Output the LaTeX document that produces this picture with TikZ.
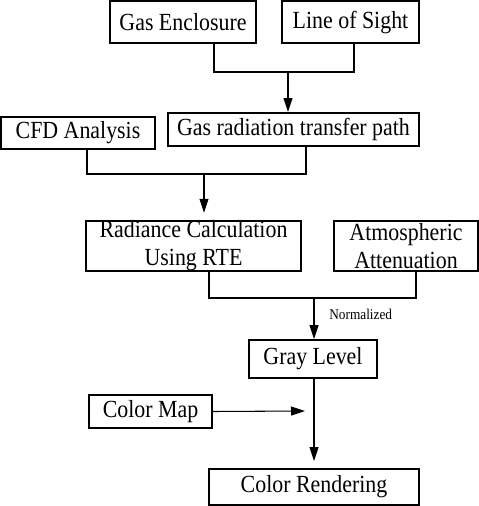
\documentclass[tikz,border=0pt]{standalone}
\usepackage{fontspec}
\setmainfont{Liberation Serif}[FakeStretch=0.89]
\usetikzlibrary{arrows.meta, positioning, calc}
\tikzset{
    box/.style={draw, line width=1.1pt, inner sep=0pt, align=center, font=\fontsize{14}{16}\selectfont},
    link/.style={line width=0.6pt},
    flow/.style={link, -{Triangle[length=0.28cm, width=0.18cm]}}
}

\begin{document}
\begin{tikzpicture}[x=0.02cm, y=-0.02cm]
    \useasboundingbox (0,0) rectangle (479,506);

    % Blocchi
    \node[box, minimum width=2.92cm, minimum height=0.84cm] (encl) at (183,22) {Gas Enclosure};
    \node[box, minimum width=2.74cm, minimum height=0.84cm] (sight) at (350.5,22) {Line of Sight};
    \node[box, minimum width=5.02cm, minimum height=0.66cm] (path) at (293.5,129.5) {Gas radiation transfer path};
    \node[box, minimum width=3.08cm, minimum height=0.64cm] (cfd) at (78,133) {CFD Analysis};
    \node[box, minimum width=4.30cm, minimum height=1.00cm] (rte) at (193.5,246) {Radiance Calculation\\Using RTE};
    \node[box, minimum width=2.88cm, minimum height=1.00cm] (atm) at (406,246) {Atmospheric\\Attenuation};
    \node[box, minimum width=2.56cm, minimum height=0.76cm] (gray) at (313,359) {Gray Level};
    \node[box, minimum width=2.46cm, minimum height=0.66cm] (cmap) at (150.5,411.5) {Color Map};
    \node[box, minimum width=4.20cm, minimum height=0.72cm] (render) at (314,487) {Color Rendering};

    % Punti di giunzione
    \coordinate (e1) at (214,43);
    \coordinate (s1) at (354,43);
    \coordinate (j1) at (288,72);
    \coordinate (c1) at (87,149);
    \coordinate (p1) at (306,146);
    \coordinate (j2) at (204,174);
    \coordinate (r1) at (209,271);
    \coordinate (a1) at (416,271);
    \coordinate (j3) at (314,298);
    \coordinate (m1) at (305,411);

    % Connessioni
    \draw[link] (e1) |- (j1) -| (s1);
    \draw[flow] (j1) -- (path.north -| j1);
    \draw[link] (c1) |- (j2) -| (p1);
    \draw[flow, shorten >=0.14cm] (j2) -- (rte.north -| j2);
    \draw[link] (r1) |- (j3) -| (a1);
    \draw[flow] (j3) -- node[right=0.18cm, pos=0.4, font=\fontsize{8.5}{10}\selectfont] (norm) {Normalized} (gray.north -| j3);
    \draw[flow, shorten >=0.14cm] (gray.south -| j3) -- (render.north -| j3);
    \draw[flow] (cmap.east) -- (m1);
\end{tikzpicture}
\end{document}
